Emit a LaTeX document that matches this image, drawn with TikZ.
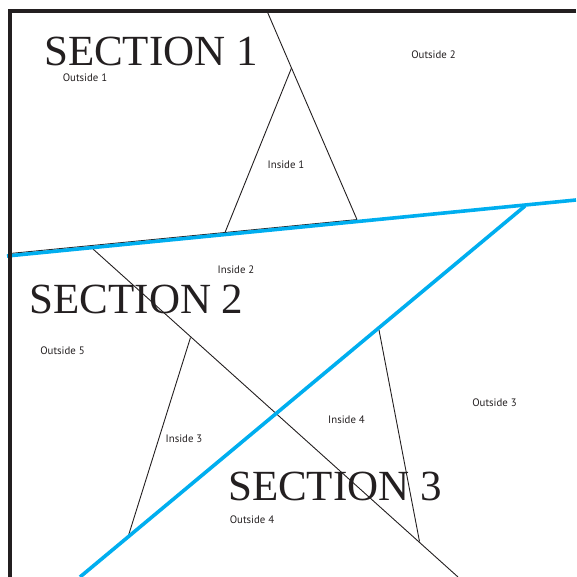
\documentclass[tikz,border=0pt]{standalone}
\usepackage{fontspec}
\newfontfamily\secfont{Liberation Serif}
\newfontfamily\labfont{PT Sans}
\definecolor{cyanline}{HTML}{00AEEF}
\definecolor{framegray}{HTML}{231F20}
\begin{document}
\begin{tikzpicture}[x=1pt,y=-1pt,
  frame/.style={draw=framegray,line width=3.5pt},
  thin/.style={draw=framegray,line width=0.9pt},
  blue/.style={draw=cyanline,line width=3.6pt},
  sec/.style={font=\secfont\fontsize{43}{43}\selectfont,text=framegray,anchor=base,inner sep=0pt},
  lab/.style={font=\labfont\fontsize{10.8}{10.8}\selectfont,text=framegray,inner sep=0pt}]
\useasboundingbox (0,0) rectangle (576,577);
% coordinates
\coordinate (ftr) at (576,11);
\coordinate (ftl) at (10,11);
\coordinate (fbl) at (10,577);
\coordinate (top) at (267,11);
\coordinate (apex) at (291.5,68);
\coordinate (r1) at (357,219.6);
\coordinate (l1) at (225,232.5);
\coordinate (bl0) at (10,253.5);
\coordinate (b1a) at (7,256);
\coordinate (b1b) at (576,200);
\coordinate (b2a) at (525,206);
\coordinate (b2b) at (80,577);
\coordinate (s0) at (93,249);
\coordinate (s1) at (458,577);
\coordinate (p3) at (190.5,337.5);
\coordinate (q3) at (128,537);
\coordinate (p4) at (379,330);
\coordinate (q4) at (419.5,541.5);
% thin lines
\draw[thin] (top) -- (apex) -- (r1);
\draw[thin] (apex) -- (l1);
\draw[thin] (bl0) -- (r1);
\draw[thin] (s0) -- (s1);
\draw[thin] (p3) -- (q3);
\draw[thin] (p4) -- (q4);
% blue lines
\draw[blue] (b1a) -- (b1b);
\draw[blue] (b2a) -- (b2b);
% frame
\draw[frame] (ftr) -- (ftl) -- (fbl);
% texts
\node[sec] (sec1) at (151,66) {SECTION 1};
\node[sec] (sec2) at (136.5,313) {SECTION 2};
\node[sec] (sec3) at (335,500) {SECTION 3};
\node[lab] (o1) at (85,78) {Outside 1};
\node[lab] (o2) at (433.5,54.5) {Outside 2};
\node[lab] (i1) at (286,165) {Inside 1};
\node[lab] (i2) at (236,269.5) {Inside 2};
\node[lab] (o5) at (62.5,350.5) {Outside 5};
\node[lab] (i3) at (184,439) {Inside 3};
\node[lab] (i4) at (346.5,420) {Inside 4};
\node[lab] (o3) at (494.5,403) {Outside 3};
\node[lab] (o4) at (252,520) {Outside 4};
\end{tikzpicture}
\end{document}
